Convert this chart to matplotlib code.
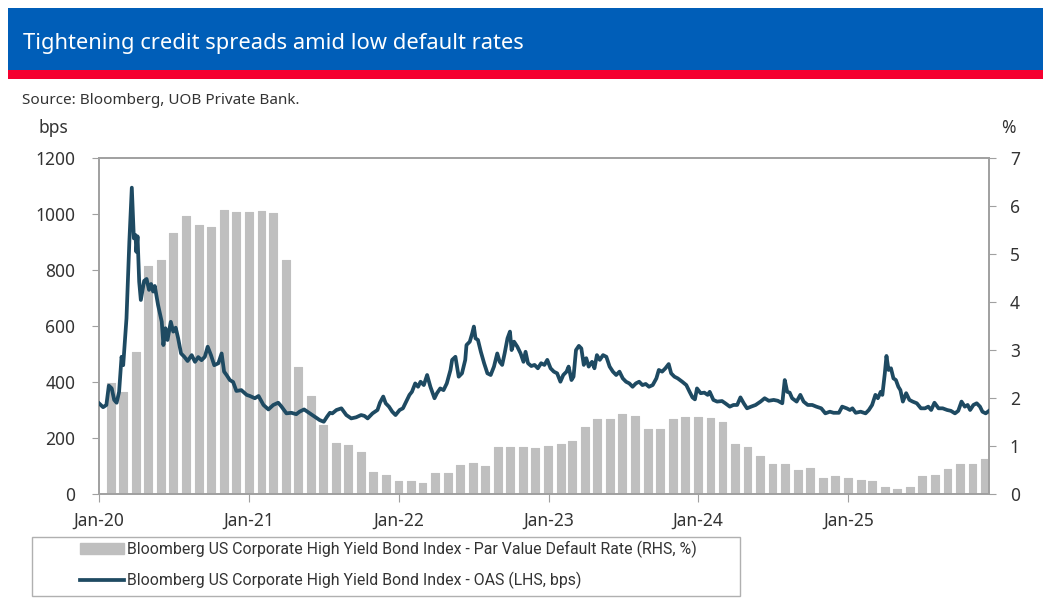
import matplotlib
matplotlib.use("Agg")
import matplotlib.pyplot as plt
import matplotlib.dates as mdates
from matplotlib.patches import Rectangle, Patch
from matplotlib.lines import Line2D
import pandas as pd

# Chart: HY credit spreads (OAS, LHS) vs par value default rate (RHS)
plt.rcParams['font.family'] = ['Noto Sans', 'DejaVu Sans']

title = "Tightening credit spreads amid low default rates"
source = "Source: Bloomberg, UOB Private Bank."
bar_label = "Bloomberg US Corporate High Yield Bond Index - Par Value Default Rate (RHS, %)"
line_label = "Bloomberg US Corporate High Yield Bond Index - OAS (LHS, bps)"

# monthly default rate, %, Jan-20 .. Nov-25 (month ends)
default_months = pd.date_range("2020-01-31", periods=71, freq="ME")
default_rate = [
    2.31, 2.13, 2.96, 4.76, 4.88, 5.44, 5.79, 5.60, 5.56, 5.92, 5.88, 5.88,
    5.89, 5.86, 4.88, 2.65, 2.05, 1.43, 1.06, 1.03, 0.88, 0.46, 0.40, 0.28,
    0.28, 0.23, 0.44, 0.43, 0.60, 0.65, 0.58, 0.97, 0.97, 0.97, 0.95, 1.00,
    1.05, 1.11, 1.40, 1.56, 1.56, 1.67, 1.63, 1.35, 1.35, 1.56, 1.60, 1.60,
    1.59, 1.51, 1.04, 0.98, 0.79, 0.62, 0.62, 0.51, 0.55, 0.34, 0.37, 0.34,
    0.29, 0.27, 0.14, 0.10, 0.15, 0.37, 0.40, 0.52, 0.62, 0.62, 0.72,
]

# OAS, bps
oas_dates = [
    "2020-01-01", "2020-01-11", "2020-01-19", "2020-01-25", "2020-02-01", "2020-02-07",
    "2020-02-13", "2020-02-19", "2020-02-25", "2020-02-29", "2020-03-08", "2020-03-15",
    "2020-03-21", "2020-03-26", "2020-03-30", "2020-04-01", "2020-04-04", "2020-04-08",
    "2020-04-12", "2020-04-20", "2020-04-26", "2020-05-02", "2020-05-07", "2020-05-12",
    "2020-05-16", "2020-05-24", "2020-06-02", "2020-06-06", "2020-06-11", "2020-06-16",
    "2020-06-24", "2020-06-30", "2020-07-06", "2020-07-12", "2020-07-19", "2020-07-27",
    "2020-08-04", "2020-08-14", "2020-08-22", "2020-08-30", "2020-09-07", "2020-09-15",
    "2020-09-22", "2020-09-30", "2020-10-08", "2020-10-18", "2020-10-26", "2020-11-01",
    "2020-11-07", "2020-11-15", "2020-11-23", "2020-12-01", "2020-12-13", "2020-12-26",
    "2021-01-03", "2021-01-15", "2021-01-24", "2021-02-05", "2021-02-17", "2021-03-01",
    "2021-03-13", "2021-03-21", "2021-04-02", "2021-04-14", "2021-04-26", "2021-05-04",
    "2021-05-15", "2021-05-27", "2021-06-10", "2021-06-22", "2021-07-02", "2021-07-10",
    "2021-07-17", "2021-07-23", "2021-08-02", "2021-08-14", "2021-08-26", "2021-09-07",
    "2021-09-19", "2021-10-01", "2021-10-09", "2021-10-17", "2021-10-29", "2021-11-10",
    "2021-11-16", "2021-11-24", "2021-11-30", "2021-12-08", "2021-12-16", "2021-12-24",
    "2022-01-03", "2022-01-11", "2022-01-19", "2022-01-27", "2022-02-02", "2022-02-10",
    "2022-02-17", "2022-02-23", "2022-03-03", "2022-03-11", "2022-03-19", "2022-03-29",
    "2022-04-04", "2022-04-12", "2022-04-20", "2022-04-28", "2022-05-07", "2022-05-11",
    "2022-05-19", "2022-05-27", "2022-06-04", "2022-06-12", "2022-06-15", "2022-06-23",
    "2022-06-29", "2022-07-03", "2022-07-07", "2022-07-13", "2022-07-20", "2022-07-28",
    "2022-08-05", "2022-08-13", "2022-08-21", "2022-08-29", "2022-09-04", "2022-09-10",
    "2022-09-16", "2022-09-23", "2022-09-29", "2022-10-03", "2022-10-09", "2022-10-17",
    "2022-10-25", "2022-11-01", "2022-11-06", "2022-11-12", "2022-11-20", "2022-11-28",
    "2022-12-06", "2022-12-14", "2022-12-22", "2022-12-29", "2023-01-06", "2023-01-14",
    "2023-01-22", "2023-01-30", "2023-02-06", "2023-02-14", "2023-02-19", "2023-02-26",
    "2023-03-03", "2023-03-09", "2023-03-16", "2023-03-22", "2023-03-28", "2023-04-03",
    "2023-04-09", "2023-04-17", "2023-04-23", "2023-04-29", "2023-05-06", "2023-05-14",
    "2023-05-22", "2023-05-30", "2023-06-07", "2023-06-15", "2023-06-23", "2023-07-01",
    "2023-07-09", "2023-07-17", "2023-07-25", "2023-08-02", "2023-08-10", "2023-08-18",
    "2023-08-26", "2023-09-03", "2023-09-12", "2023-09-21", "2023-09-27", "2023-10-05",
    "2023-10-13", "2023-10-21", "2023-10-27", "2023-11-04", "2023-11-12", "2023-11-23",
    "2023-12-03", "2023-12-11", "2023-12-18", "2023-12-24", "2023-12-29", "2024-01-07",
    "2024-01-16", "2024-01-24", "2024-01-29", "2024-02-07", "2024-02-16", "2024-02-28",
    "2024-03-07", "2024-03-18", "2024-03-27", "2024-04-05", "2024-04-13", "2024-04-21",
    "2024-04-29", "2024-05-09", "2024-05-20", "2024-06-01", "2024-06-11", "2024-06-21",
    "2024-07-03", "2024-07-13", "2024-07-24", "2024-07-30", "2024-08-05", "2024-08-11",
    "2024-08-17", "2024-08-28", "2024-09-06", "2024-09-14", "2024-09-24", "2024-10-05",
    "2024-10-15", "2024-10-27", "2024-11-06", "2024-11-17", "2024-11-26", "2024-12-09",
    "2024-12-17", "2024-12-28", "2025-01-05", "2025-01-11", "2025-01-19", "2025-01-31",
    "2025-02-12", "2025-02-20", "2025-02-28", "2025-03-08", "2025-03-14", "2025-03-21",
    "2025-03-25", "2025-03-31", "2025-04-04", "2025-04-09", "2025-04-15", "2025-04-21",
    "2025-04-27", "2025-05-03", "2025-05-08", "2025-05-14", "2025-05-22", "2025-05-30",
    "2025-06-07", "2025-06-17", "2025-06-27", "2025-07-07", "2025-07-15", "2025-07-22",
    "2025-07-30", "2025-08-09", "2025-08-19", "2025-08-30", "2025-09-08", "2025-09-18",
    "2025-09-26", "2025-10-04", "2025-10-12", "2025-10-19", "2025-10-25", "2025-11-02",
    "2025-11-10", "2025-11-18", "2025-11-24", "2025-12-02", "2025-12-10",
]
oas_bps = [
    324, 310, 318, 387, 377, 336,
    326, 365, 490, 460, 627, 901,
    1094, 913, 925, 865, 920, 758,
    693, 761, 768, 729, 750, 723,
    743, 675, 615, 532, 592, 550,
    615, 580, 594, 556, 502, 490,
    475, 496, 472, 489, 478, 490,
    526, 496, 460, 467, 502, 437,
    425, 407, 400, 368, 371, 354,
    350, 342, 350, 318, 302, 318,
    326, 312, 288, 290, 285, 294,
    302, 290, 276, 264, 258, 276,
    290, 288, 300, 306, 282, 270,
    274, 282, 279, 270, 288, 300,
    326, 348, 324, 312, 294, 282,
    300, 306, 330, 354, 365, 395,
    383, 401, 389, 425, 383, 342,
    360, 377, 371, 395, 443, 479,
    490, 419, 431, 479, 532, 544,
    574, 598, 556, 550, 508, 467,
    431, 425, 455, 502, 472, 461,
    502, 556, 580, 514, 544, 526,
    502, 472, 508, 467, 457, 461,
    449, 467, 461, 479, 449, 437,
    431, 401, 425, 437, 455, 407,
    419, 514, 529, 520, 461, 485,
    455, 472, 449, 496, 479, 496,
    490, 455, 437, 425, 437, 413,
    401, 395, 383, 395, 401, 389,
    393, 383, 389, 413, 443, 437,
    449, 464, 431, 419, 413, 401,
    389, 365, 345, 338, 377, 360,
    362, 354, 365, 336, 330, 332,
    324, 312, 318, 318, 345, 324,
    306, 312, 318, 330, 342, 333,
    336, 333, 324, 407, 365, 362,
    342, 330, 354, 330, 318, 318,
    312, 306, 288, 294, 290, 290,
    312, 306, 300, 306, 290, 294,
    288, 300, 318, 354, 342, 365,
    354, 431, 493, 443, 449, 413,
    407, 383, 371, 330, 360, 336,
    330, 324, 306, 306, 312, 300,
    326, 306, 306, 300, 297, 288,
    297, 330, 312, 318, 300, 318,
    324, 312, 294, 288, 297,
]

year_ticks = pd.date_range("2020-01-01", "2025-01-01", freq="YS")

blue = "#005EB8"
red = "#F5002F"
line_col = "#1E4A62"
bar_col = "#BFBFBF"
axis_col = "#A0A0A0"
text_col = "#333333"

fig = plt.figure(figsize=(10.43, 6.01), dpi=100)
W, H = 1043, 601

# header band
fig.patches.append(Rectangle((8 / W, 1 - 70 / H), 1, 62 / H, transform=fig.transFigure,
                             facecolor=blue, edgecolor="none", zorder=0))
fig.patches.append(Rectangle((8 / W, 1 - 79 / H), 1, 9 / H, transform=fig.transFigure,
                             facecolor=red, edgecolor="none", zorder=0))
fig.text(23 / W, 1 - 43 / H, title, color="white", fontsize=15.8, va="center", ha="left")
fig.text(22 / W, 1 - 100 / H, source, color=text_col, fontsize=11, va="center", ha="left")

ax = fig.add_axes([99 / W, 1 - 494 / H, 890 / W, 336 / H])
ax2 = ax.twinx()

# bars on the right axis, drawn behind the line
ax2.bar(default_months, default_rate, width=19, color=bar_col, edgecolor=bar_col,
        linewidth=0.8, joinstyle="round", zorder=1)
ax2.set_ylim(0, 7)
ax2.set_yticks(range(0, 8))

ax.set_zorder(ax2.get_zorder() + 1)
ax.patch.set_visible(False)
ax.plot(pd.to_datetime(oas_dates), oas_bps, color=line_col, linewidth=2.7,
        solid_joinstyle="round", zorder=3)
ax.set_ylim(0, 1200)
ax.set_yticks(range(0, 1201, 200))

ax.set_xlim(pd.Timestamp("2020-01-01"), pd.Timestamp("2025-12-10"))
ax.set_xticks(year_ticks)
ax.xaxis.set_major_formatter(mdates.DateFormatter("%b-%y"))

for a in (ax, ax2):
    for s in a.spines.values():
        s.set_color(axis_col)
        s.set_linewidth(1.2)
ax.tick_params(axis="y", colors=axis_col, labelcolor=text_col, labelsize=12.5, length=5, pad=12)
ax.tick_params(axis="x", colors=axis_col, labelcolor=text_col, labelsize=12.5, length=6, pad=7)
ax2.tick_params(axis="y", colors=axis_col, labelcolor=text_col, labelsize=12.5, length=5, pad=10)

fig.text(53 / W, 1 - 128 / H, "bps", color=text_col, fontsize=12.5, ha="center", va="center")
fig.text(1008 / W, 1 - 128 / H, "%", color=text_col, fontsize=12.5, ha="center", va="center")

# legend: box drawn separately, entries inset like the original
fig.patches.append(Rectangle((32 / W, 1 - 596 / H), 708 / W, 59 / H, transform=fig.transFigure,
                             facecolor="white", edgecolor="#B0B0B0", linewidth=1.0, zorder=1))
handles = [Patch(facecolor=bar_col, edgecolor=bar_col),
           Line2D([0], [0], color=line_col, linewidth=2.7)]
leg = fig.legend(handles, [bar_label, line_label], loc="upper left",
                 bbox_to_anchor=(80 / W, 1 - 541 / H), frameon=False,
                 prop={"family": ["Roboto", "Noto Sans"], "size": 11.4},
                 handlelength=2.8, handletextpad=0.15, borderpad=0,
                 labelspacing=0.85, borderaxespad=0)
for t in leg.get_texts():
    t.set_color(text_col)

fig.savefig("out.png", dpi=100)
